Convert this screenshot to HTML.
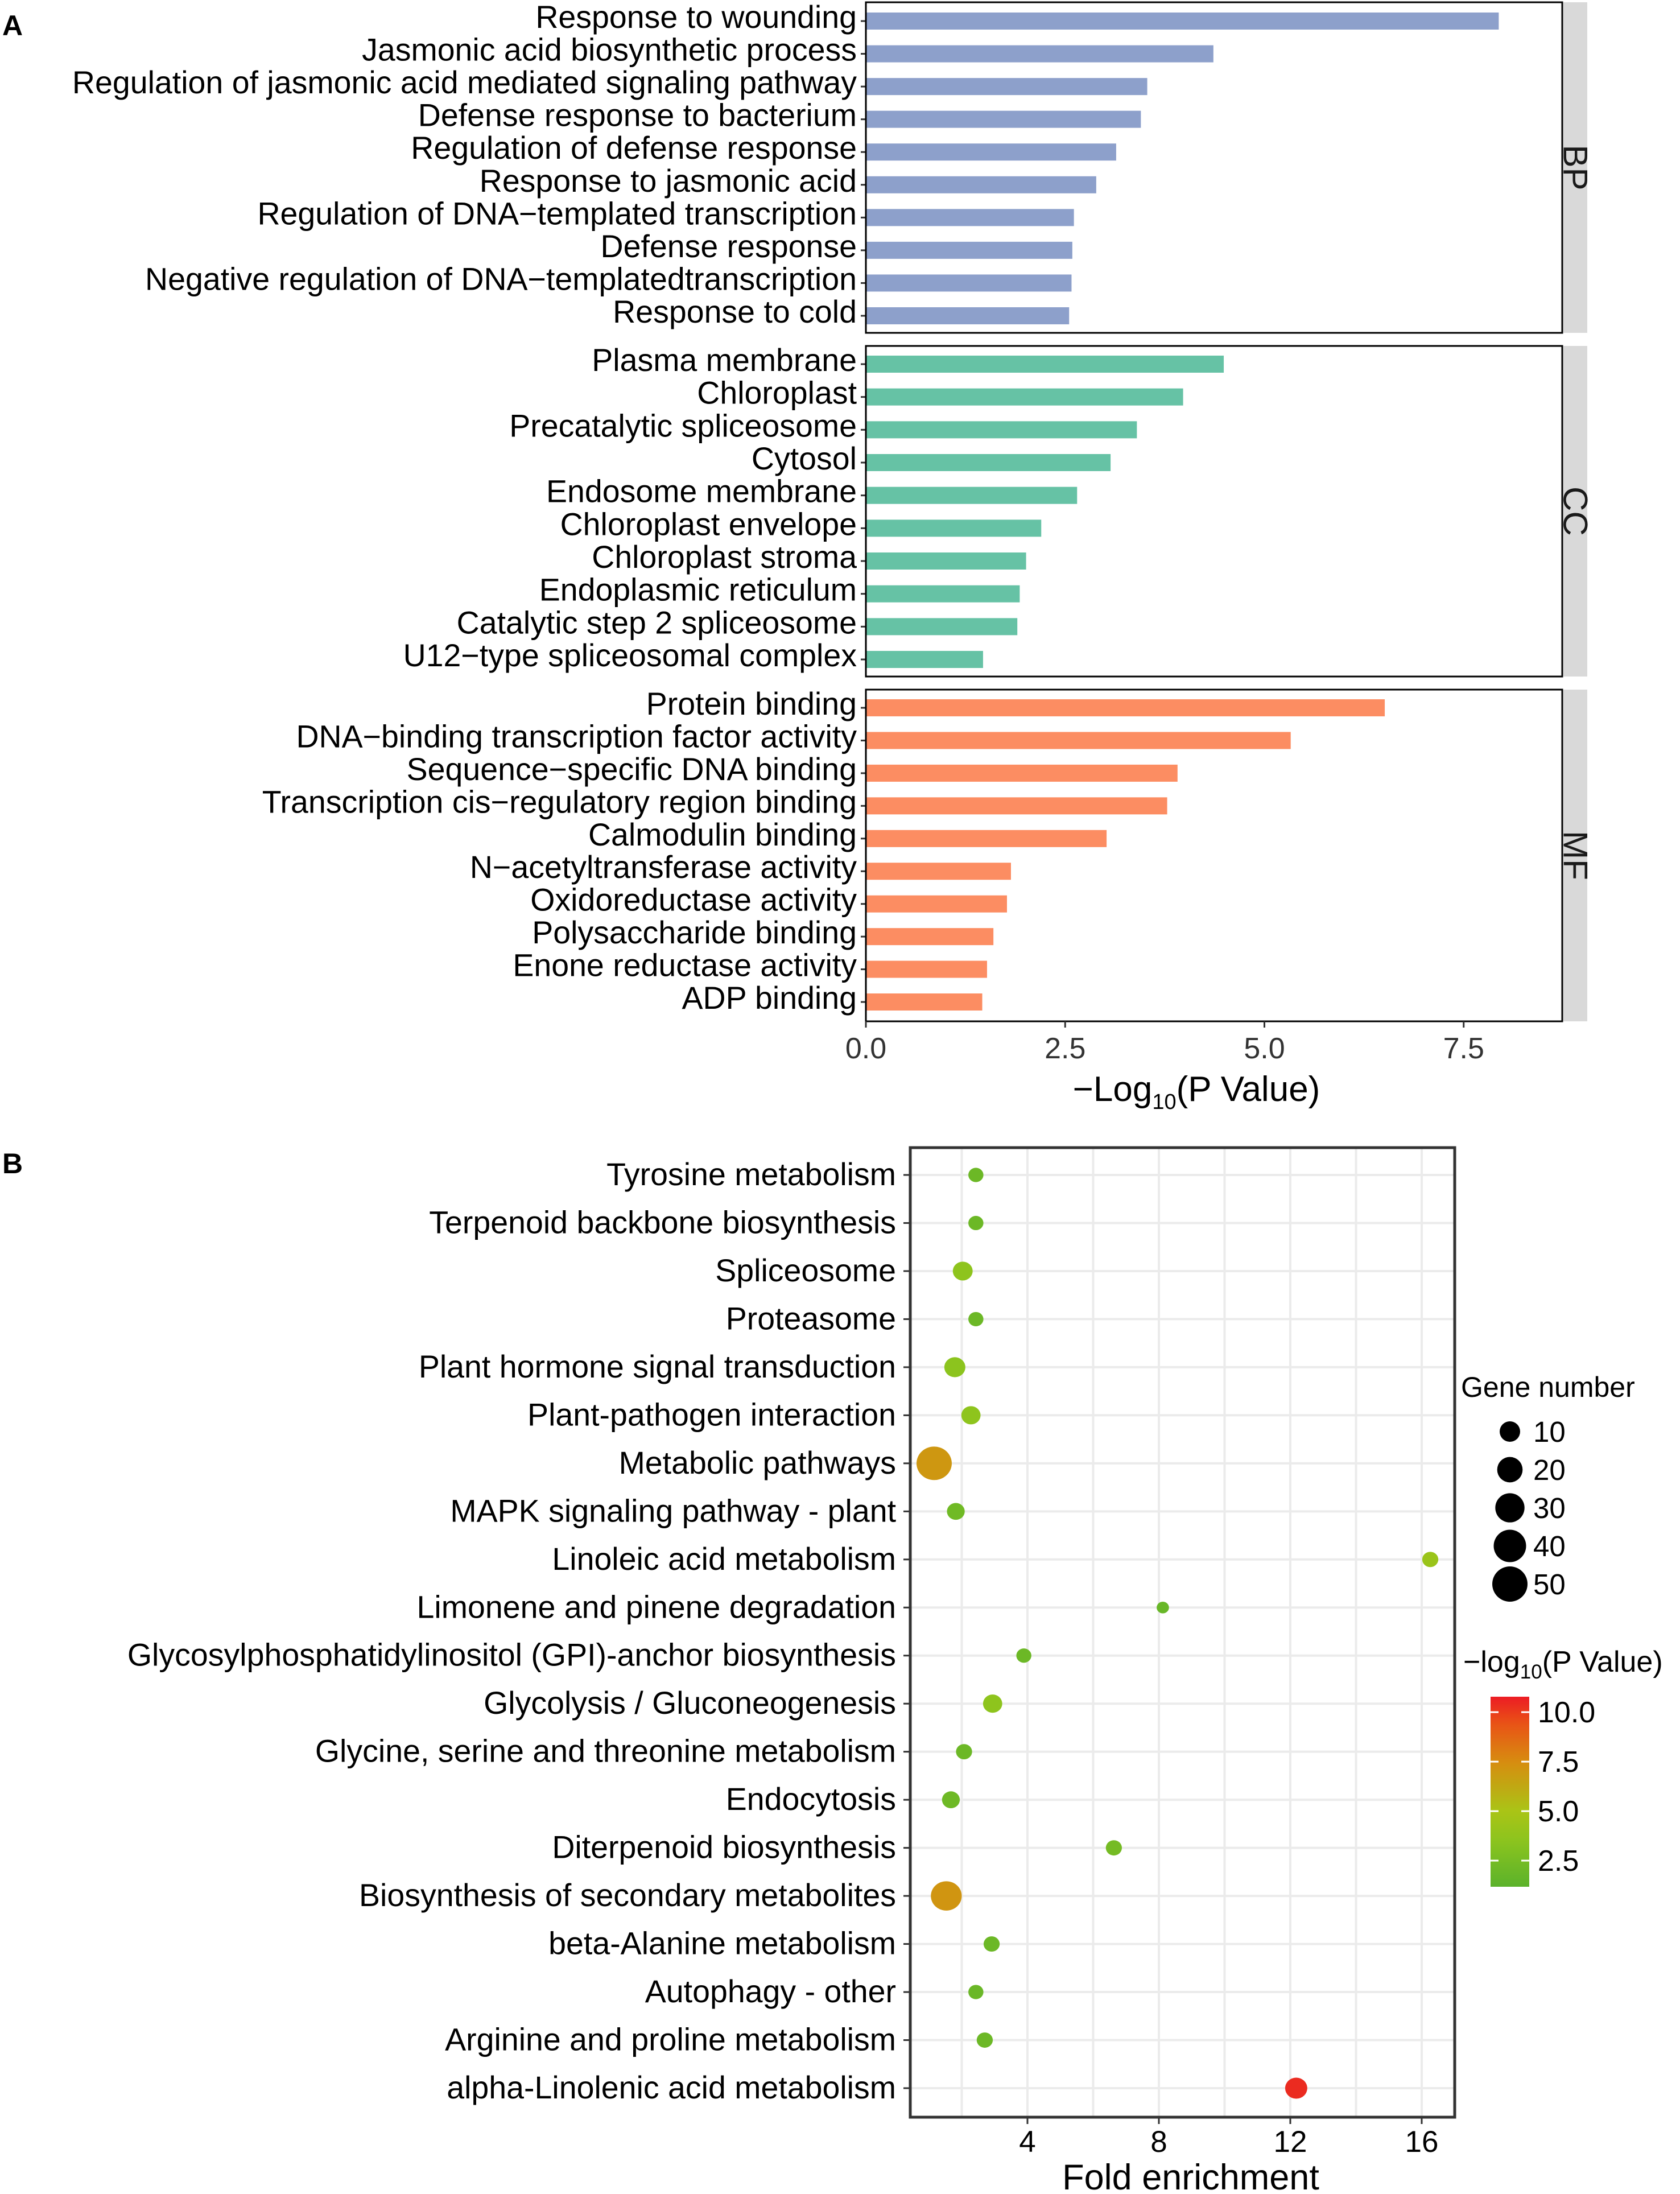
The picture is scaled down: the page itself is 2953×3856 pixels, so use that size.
<!DOCTYPE html>
<html><head><meta charset="utf-8"><style>
html,body{margin:0;padding:0;background:#fff;}
svg{display:block;font-family:"Liberation Sans",Arial,sans-serif;}
</style></head><body>
<svg id="fig" width="2953" height="3856" viewBox="0 0 2953 3856" xmlns="http://www.w3.org/2000/svg">
<rect width="2953" height="3856" fill="#fff"/>
<text x="4" y="62" font-size="50" font-weight="bold">A</text>
<text x="4" y="2062" font-size="50" font-weight="bold">B</text>
<g id="pa"></g>
<g id="pb"></g>
</svg>
<script>
// ---------- Panel A data ----------
const bpTerms = ["Response to wounding","Jasmonic acid biosynthetic process","Regulation of jasmonic acid mediated signaling pathway","Defense response to bacterium","Regulation of defense response","Response to jasmonic acid","Regulation of DNA\u2212templated transcription","Defense response","Negative regulation of DNA\u2212templatedtranscription","Response to cold"];
const bpValues = [7.94,4.36,3.53,3.45,3.14,2.89,2.61,2.59,2.58,2.55];
const ccTerms = ["Plasma membrane","Chloroplast","Precatalytic spliceosome","Cytosol","Endosome membrane","Chloroplast envelope","Chloroplast stroma","Endoplasmic reticulum","Catalytic step 2 spliceosome","U12\u2212type spliceosomal complex"];
const ccValues = [4.49,3.98,3.40,3.07,2.65,2.20,2.01,1.93,1.90,1.47];
const mfTerms = ["Protein binding","DNA\u2212binding transcription factor activity","Sequence\u2212specific DNA binding","Transcription cis\u2212regulatory region binding","Calmodulin binding","N\u2212acetyltransferase activity","Oxidoreductase activity","Polysaccharide binding","Enone reductase activity","ADP binding"];
const mfValues = [6.51,5.33,3.91,3.78,3.02,1.82,1.77,1.60,1.52,1.46];
const aTicks = [0,2.5,5,7.5];
const aTickLabels = ["0.0","2.5","5.0","7.5"];
const facetNames = ["BP","CC","MF"];

// ---------- Panel B data ----------
const keggTerms = ["Tyrosine metabolism","Terpenoid backbone biosynthesis","Spliceosome","Proteasome","Plant hormone signal transduction","Plant-pathogen interaction","Metabolic pathways","MAPK signaling pathway - plant","Linoleic acid metabolism","Limonene and pinene degradation","Glycosylphosphatidylinositol (GPI)-anchor biosynthesis","Glycolysis / Gluconeogenesis","Glycine, serine and threonine metabolism","Endocytosis","Diterpenoid biosynthesis","Biosynthesis of secondary metabolites","beta-Alanine metabolism","Autophagy - other","Arginine and proline metabolism","alpha-Linolenic acid metabolism"];
const foldEnrichment = [2.43,2.43,2.03,2.43,1.79,2.28,1.16,1.82,16.26,8.12,3.89,2.94,2.07,1.67,6.63,1.53,2.91,2.43,2.70,12.18];
const geneNumber = [3,3,9,3,11,8,50,6,4,1,3,8,4,6,4,35,4,3,4,13];
const negLogP = [2.0,2.0,3.6,2.0,3.5,3.6,7.0,2.2,4.2,1.8,2.0,3.6,2.0,2.1,2.4,7.1,2.0,1.9,2.0,10.4];
const bTicks = [4,8,12,16];
const bGrid = [2,4,6,8,10,12,14,16];
const sizeLegend = [10,20,30,40,50];
const colorTicks = [2.5,5,7.5,10];
const colorTickLabels = ["2.5","5.0","7.5","10.0"];

const NS="http://www.w3.org/2000/svg";
function mk(parent,tag,attrs,text){const e=document.createElementNS(NS,tag);for(const k in attrs)e.setAttribute(k,attrs[k]);if(text!==undefined)e.textContent=text;parent.appendChild(e);return e;}

// ---------- Panel A ----------
const pa=document.getElementById('pa');
const ax0=1522, axUnit=140.1;
const xA=v=>ax0+v*axUnit;
const plotRight=2746;
const facets=[
 {terms:bpTerms,vals:bpValues,top:4,bot:585,first:37,last:555,color:"#8da0cb"},
 {terms:ccTerms,vals:ccValues,top:608,bot:1189,first:640,last:1159,color:"#66c2a5"},
 {terms:mfTerms,vals:mfValues,top:1212,bot:1795,first:1244,last:1761,color:"#fc8d62"}
];
facets.forEach((f,fi)=>{
  const step=(f.last-f.first)/(f.terms.length-1);
  const yA=i=>f.first+i*step;
  f.vals.forEach((v,i)=>{
    const b=mk(pa,'rect',{x:xA(0),y:yA(i)-15,width:xA(v)-xA(0),height:30,fill:f.color});
    
    
    const t=mk(pa,'text',{x:1506,y:yA(i)+12,'font-size':55.5,'text-anchor':'end',fill:'#000'},f.terms[i]);
    
    
    mk(pa,'line',{x1:1513,x2:1522,y1:yA(i),y2:yA(i),stroke:'#333','stroke-width':3});
  });
  const box=mk(pa,'rect',{x:1522,y:f.top,width:plotRight-1522,height:f.bot-f.top,fill:'none',stroke:'#000','stroke-width':3});
  
  
  const strip=mk(pa,'rect',{x:2748,y:f.top,width:42,height:f.bot-f.top,fill:'#d9d9d9'});
  
  
  const cy=(f.top+f.bot)/2;
  const st=mk(pa,'text',{x:2769,y:cy,'font-size':60,'text-anchor':'middle','dominant-baseline':'central',fill:'#1a1a1a',transform:`rotate(90 2769 ${cy})`},facetNames[fi]);
  
  
});
aTicks.forEach((v,i)=>{
  mk(pa,'line',{x1:xA(v),x2:xA(v),y1:1795,y2:1806,stroke:'#333','stroke-width':3});
  const t=mk(pa,'text',{x:xA(v),y:1860,'font-size':52,'text-anchor':'middle',fill:'#333'},aTickLabels[i]);
  
  
});
{const t=mk(pa,'text',{x:2103,y:1935,'font-size':62,'text-anchor':'middle',fill:'#000'});
 
 
 t.innerHTML='\u2212Log<tspan font-size="38" dy="14">10</tspan><tspan dy="-14">(P Value)</tspan>';}

// ---------- Panel B ----------
const pb=document.getElementById('pb');
const bL=1600,bR=2557,bT=2017,bB=3721;
const bx0=1575,bUnit=57.75;
const xB=v=>bx0+v*bUnit;
const yB=i=>2065+i*(3670-2065)/(keggTerms.length-1);
const rB=n=>7.5+3.32*Math.sqrt(n);
const cStops=[[1.2,[91,178,43]],[3.5,[140,196,30]],[5.0,[170,196,22]],[7.5,[215,140,16]],[9.5,[234,80,22]],[10.8,[236,27,36]]];
function colB(v){
  if(v<=cStops[0][0])return `rgb(${cStops[0][1]})`;
  for(let k=1;k<cStops.length;k++){if(v<=cStops[k][0]){const a=cStops[k-1],b=cStops[k];const t=(v-a[0])/(b[0]-a[0]);return 'rgb('+a[1].map((c,j)=>Math.round(c+(b[1][j]-c)*t)).join(',')+')';}}
  return `rgb(${cStops[cStops.length-1][1]})`;
}
bGrid.forEach(v=>{mk(pb,'line',{x1:xB(v),x2:xB(v),y1:bT,y2:bB,stroke:'#ebebeb','stroke-width':4});});
keggTerms.forEach((t,i)=>{mk(pb,'line',{x1:bL,x2:bR,y1:yB(i),y2:yB(i),stroke:'#ebebeb','stroke-width':4});});
keggTerms.forEach((t,i)=>{
  const tx=mk(pb,'text',{x:1575,y:yB(i)+18,'font-size':55.5,'text-anchor':'end',fill:'#000'},t);
  
  
  mk(pb,'line',{x1:1588,x2:1600,y1:yB(i),y2:yB(i),stroke:'#333','stroke-width':3});
  const c=mk(pb,'ellipse',{cx:xB(foldEnrichment[i]),cy:yB(i),rx:rB(geneNumber[i]),ry:rB(geneNumber[i])*0.95,fill:colB(negLogP[i])});
  
  
});
{const r=mk(pb,'rect',{x:bL,y:bT,width:bR-bL,height:bB-bT,fill:'none',stroke:'#333','stroke-width':5});
 
 }
bTicks.forEach(v=>{
  mk(pb,'line',{x1:xB(v),x2:xB(v),y1:bB,y2:bB+12,stroke:'#333','stroke-width':3});
  const t=mk(pb,'text',{x:xB(v),y:3782,'font-size':53,'text-anchor':'middle',fill:'#000'},String(v));
  
  
});
{const t=mk(pb,'text',{x:2093,y:3848,'font-size':63,'text-anchor':'middle',fill:'#000'},'Fold enrichment');
 
 }
// size legend
{const t=mk(pb,'text',{x:2568,y:2455,'font-size':50,fill:'#000'},'Gene number');
 
 }
sizeLegend.forEach((n,i)=>{
  const y=2516+i*67;
  const c=mk(pb,'circle',{cx:2654,cy:y,r:rB(n),fill:'#000'});
  
  
  const t=mk(pb,'text',{x:2695,y:y+18,'font-size':51,fill:'#000'},String(n));
  
  
});
// colour legend
{const t=mk(pb,'text',{x:2572,y:2938,'font-size':52,fill:'#000'});
 
 
 t.innerHTML='\u2212log<tspan font-size="35" dy="12">10</tspan><tspan dy="-12">(P Value)</tspan>';}
const cbTop=2982,cbBot=3316,cbMin=1.18,cbMax=10.78;
const yC=v=>cbBot-(v-cbMin)/(cbMax-cbMin)*(cbBot-cbTop);
const defs=mk(pb,'defs',{});
const grad=mk(defs,'linearGradient',{id:'cg',x1:0,y1:1,x2:0,y2:0});
for(let k=0;k<=20;k++){const v=cbMin+(cbMax-cbMin)*k/20;mk(grad,'stop',{offset:(k/20),'stop-color':colB(v)});}
{const r=mk(pb,'rect',{x:2620,y:cbTop,width:68,height:cbBot-cbTop,fill:'url(#cg)'});
 
 }
colorTicks.forEach((v,i)=>{
  const y=yC(v);
  mk(pb,'line',{x1:2620,x2:2634,y1:y,y2:y,stroke:'#fff','stroke-width':3});
  mk(pb,'line',{x1:2674,x2:2688,y1:y,y2:y,stroke:'#fff','stroke-width':3});
  const t=mk(pb,'text',{x:2703,y:y+18,'font-size':52,fill:'#000'},colorTickLabels[i]);
  
  
});
</script>
</body></html>
